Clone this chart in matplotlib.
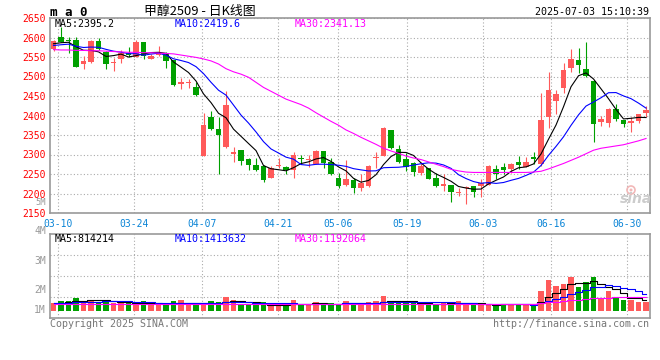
import matplotlib
matplotlib.use('Agg')
import matplotlib.pyplot as plt
from matplotlib.patches import Circle
import numpy as np
import pandas as pd

# trading days shown (Sina daily K chart, methanol MA2509)
holidays = ['2025-04-04', '2025-05-01', '2025-05-02', '2025-05-05', '2025-06-02']
dates = pd.bdate_range('2025-03-07', '2025-07-03', freq='C', holidays=holidays).strftime('%m-%d').tolist()

opens = [2570, 2602, 2592, 2594, 2531, 2538, 2591, 2562, 2535, 2544,
         2559, 2551, 2588, 2546, 2556, 2561, 2542, 2481, 2483, 2474,
         2296, 2397, 2365, 2318, 2301, 2311, 2288, 2273, 2271, 2241,
         2270, 2269, 2259, 2292, 2287, 2276, 2309, 2282, 2241, 2222,
         2235, 2213, 2220, 2290, 2296, 2363, 2314, 2288, 2277, 2253,
         2265, 2241, 2218, 2222, 2202, 2215, 2219, 2218, 2223, 2263,
         2269, 2263, 2282, 2269, 2294, 2275, 2397, 2438, 2470, 2523,
         2542, 2519, 2488, 2383, 2382, 2417, 2388, 2381, 2386, 2407]
highs = [2594, 2626, 2602, 2602, 2553, 2594, 2598, 2565, 2547, 2568,
         2576, 2594, 2589, 2557, 2578, 2564, 2543, 2495, 2493, 2487,
         2407, 2412, 2397, 2463, 2320, 2312, 2290, 2290, 2272, 2271,
         2290, 2270, 2307, 2299, 2300, 2312, 2310, 2290, 2252, 2286,
         2239, 2250, 2272, 2306, 2370, 2364, 2324, 2305, 2282, 2282,
         2266, 2252, 2250, 2223, 2215, 2220, 2220, 2236, 2274, 2273,
         2277, 2277, 2296, 2294, 2306, 2457, 2511, 2465, 2534, 2570,
         2572, 2588, 2490, 2399, 2418, 2430, 2389, 2395, 2405, 2425]
lows = [2566, 2588, 2561, 2524, 2518, 2534, 2568, 2520, 2515, 2534,
        2551, 2549, 2544, 2544, 2552, 2523, 2476, 2467, 2470, 2450,
        2295, 2362, 2250, 2316, 2282, 2273, 2260, 2257, 2230, 2240,
        2266, 2250, 2241, 2276, 2269, 2275, 2265, 2248, 2213, 2220,
        2202, 2207, 2217, 2265, 2295, 2315, 2279, 2258, 2246, 2247,
        2236, 2217, 2206, 2179, 2193, 2172, 2192, 2190, 2222, 2237,
        2250, 2252, 2263, 2268, 2276, 2270, 2367, 2405, 2458, 2512,
        2508, 2498, 2333, 2374, 2371, 2385, 2371, 2358, 2380, 2397]
closes = [2592, 2589, 2590, 2525, 2540, 2591, 2570, 2531, 2536, 2559,
          2554, 2588, 2553, 2553, 2562, 2541, 2477, 2487, 2484, 2453,
          2376, 2365, 2350, 2427, 2307, 2284, 2273, 2259, 2235, 2266,
          2272, 2259, 2299, 2288, 2288, 2309, 2277, 2249, 2218, 2237,
          2213, 2228, 2271, 2292, 2367, 2316, 2282, 2269, 2254, 2271,
          2237, 2220, 2224, 2205, 2204, 2217, 2205, 2226, 2271, 2250,
          2260, 2276, 2273, 2282, 2288, 2388, 2465, 2455, 2517, 2544,
          2529, 2501, 2377, 2391, 2417, 2392, 2379, 2385, 2403, 2415]
# closes before 03-07, only needed to start MA5 / MA10
prior_closes = [2570, 2575, 2578, 2572, 2580, 2576, 2584, 2582, 2586]
# MA30 line
ma30 = [2569, 2568, 2568, 2567, 2567, 2566, 2566, 2565, 2564, 2563,
        2562, 2562, 2561, 2561, 2560, 2559, 2558, 2555, 2552, 2549,
        2545, 2540, 2532, 2520, 2512, 2506, 2498, 2485, 2472, 2462,
        2452, 2442, 2435, 2428, 2419, 2407, 2396, 2385, 2375, 2363,
        2354, 2344, 2335, 2326, 2316, 2309, 2303, 2296, 2291, 2287,
        2281, 2275, 2269, 2262, 2258, 2255, 2254, 2254, 2254, 2254,
        2254, 2254, 2254, 2254, 2255, 2257, 2263, 2270, 2277, 2285,
        2293, 2302, 2311, 2316, 2319, 2322, 2325, 2330, 2335, 2341]

# volume in millions
volumes = [0.59, 0.77, 0.77, 1.04, 0.77, 0.88, 0.67, 0.85, 0.59, 0.59,
           0.59, 0.59, 0.77, 0.50, 0.50, 0.50, 0.77, 0.85, 0.59, 0.50,
           0.50, 0.77, 0.67, 1.10, 0.85, 0.45, 0.45, 0.45, 0.67, 0.45,
           0.45, 0.45, 0.85, 0.50, 0.50, 0.67, 0.59, 0.59, 0.50, 0.77,
           0.59, 0.45, 0.67, 0.77, 1.17, 0.77, 0.59, 0.59, 0.59, 0.59,
           0.59, 0.50, 0.59, 0.67, 0.77, 0.45, 0.50, 0.50, 0.50, 0.50,
           0.50, 0.50, 0.50, 0.50, 0.50, 1.57, 2.45, 2.00, 2.13, 2.72,
           1.92, 2.32, 2.72, 0.93, 1.57, 1.07, 0.85, 0.85, 0.69, 0.69]
prior_volumes = [0.60, 0.62, 0.58, 0.60, 0.56, 0.60, 0.62, 0.58, 0.60]
# volume MA30 line
vol_ma30 = [0.55] * 65 + [0.58, 0.66, 0.71, 0.76, 0.83, 0.88, 0.94, 1.00, 1.01, 1.05,
                          1.06, 1.07, 1.08, 1.08, 1.09]

tick_dates = ['03-10', '03-24', '04-07', '04-21', '05-06', '05-19', '06-03', '06-16', '06-30']

RED = '#ff5a5a'
GREEN = '#00a000'
GRID = '#aaaaaa'
EDGE = '#999999'
MONO = 'DejaVu Sans Mono'

o = np.array(opens, float)
h = np.array(highs, float)
l = np.array(lows, float)
c = np.array(closes, float)
v = np.array(volumes) * 1e6
n = len(c)
x = np.arange(n)

ma5 = pd.Series(prior_closes + closes).rolling(5).mean().values[9:]
ma10 = pd.Series(prior_closes + closes).rolling(10).mean().values[9:]
allv = np.concatenate([np.array(prior_volumes) * 1e6, v])
vma5 = pd.Series(allv).rolling(5).mean().values[9:]
vma10 = pd.Series(allv).rolling(10).mean().values[9:]
vma30 = np.array(vol_ma30) * 1e6

# Sina labels drift a little against the candles
tick_idx = np.array([dates.index(d) for d in tick_dates])
tick_pos = tick_idx * 1.0115 - 0.45

W, H = 660, 360
fig = plt.figure(figsize=(6.6, 3.6), dpi=100)
fig.patch.set_facecolor('white')

def fx(px):
    return px / W

def fy(py):
    return 1 - py / H

ax = fig.add_axes([fx(50), fy(213), fx(600), 195 / H])
axv = fig.add_axes([fx(50), fy(318), fx(600), 83.7 / H])

up = c >= o
col = np.where(up, RED, GREEN)

ax.vlines(x, l, h, colors=col, lw=0.8, zorder=2)
body = np.maximum(np.abs(c - o), 2.6)
ax.bar(x, body, 0.7, bottom=np.minimum(o, c), color=col, lw=0, zorder=3)

ax.plot(x, ma5, color='black', lw=0.8, zorder=4)
ax.plot(x, ma10, color='#0000ff', lw=0.8, zorder=4)
ax.plot(x, ma30, color='#ff00ff', lw=0.8, zorder=4)

ax.set_xlim(-0.47, 79.53)
ax.set_ylim(2150, 2650)
ax.set_yticks(range(2150, 2651, 50))
ax.set_yticklabels([str(t) for t in range(2150, 2651, 50)], family=MONO, fontsize=7, color='#ff0000')
ax.set_xticks(tick_pos)
ax.set_xticklabels(tick_dates, family=MONO, fontsize=7, color='#0a84d6')
ax.tick_params(length=0, pad=3)
ax.tick_params(axis='x', pad=4)
ax.grid(True, ls=(0, (1, 2)), color=GRID, lw=0.8)
ax.set_axisbelow(True)
for s in ax.spines.values():
    s.set_color(EDGE)
    s.set_linewidth(1.2)

# volume panel
s_px = 80000.0
axv.bar(x, v, 0.78, color=col, lw=0, zorder=3)
axv.plot(x, vma5, color='black', lw=0.8, drawstyle='steps-mid', zorder=4)
axv.plot(x, vma10, color='#0000ff', lw=0.8, drawstyle='steps-mid', zorder=4)
axv.plot(x, vma30, color='#ff00ff', lw=0.8, drawstyle='steps-mid', zorder=4)
axv.set_xlim(-0.47, 79.53)
lo, hi = -7.3 * s_px, 76.4 * s_px
axv.set_ylim(lo, hi)
axv.set_yticks([lo + f * (hi - lo) for f in (0.25, 0.5, 0.75)])
axv.set_yticklabels([])
axv.set_xticks(tick_pos)
axv.set_xticklabels([])
axv.tick_params(length=0)
axv.grid(True, ls=(0, (1, 2)), color=GRID, lw=0.8)
axv.set_axisbelow(True)
for s in axv.spines.values():
    s.set_color(EDGE)
    s.set_linewidth(1.2)

fig.text(fx(46), fy(202.5), '5M', ha='right', va='center', family=MONO, fontsize=6.3, color='#999999')
for lab, py in [('4M', 231), ('3M', 261), ('2M', 290), ('1M', 310)]:
    fig.text(fx(46), fy(py), lab, ha='right', va='center', family=MONO, fontsize=7, color='#999999')

# header
fig.text(fx(50), fy(12), 'm a 0', ha='left', va='center', family=MONO, fontsize=9,
         fontweight='bold', color='black')
fig.text(fx(200), fy(11), '甲醇2509 - 日K线图', ha='center', va='center',
         family=['Noto Sans CJK SC', 'DejaVu Sans'], fontsize=9.3, color='black')
fig.text(fx(649), fy(12), '2025-07-03 15:10:39', ha='right', va='center', family=MONO,
         fontsize=7.2, color='black')

fig.text(fx(54.5), fy(24), 'MA5:2395.2', ha='left', va='center', family=MONO, fontsize=7.2, color='black')
fig.text(fx(174.5), fy(24), 'MA10:2419.6', ha='left', va='center', family=MONO, fontsize=7.2, color='#0000ff')
fig.text(fx(295), fy(24), 'MA30:2341.13', ha='left', va='center', family=MONO, fontsize=7.2, color='#ff00ff')

fig.text(fx(54.5), fy(239), 'MA5:814214', ha='left', va='center', family=MONO, fontsize=7.2, color='black')
fig.text(fx(174.5), fy(239), 'MA10:1413632', ha='left', va='center', family=MONO, fontsize=7.2, color='#0000ff')
fig.text(fx(295), fy(239), 'MA30:1192064', ha='left', va='center', family=MONO, fontsize=7.2, color='#ff00ff')

fig.text(fx(50), fy(324), 'Copyright 2025 SINA.COM', ha='left', va='center', family=MONO,
         fontsize=7.2, color='#777777')
fig.text(fx(649), fy(324), 'http://finance.sina.com.cn', ha='right', va='center', family=MONO,
         fontsize=7.2, color='#777777')

# watermark: small eye logo + sina
fig.patches.append(Circle((6.31, 1.70), 0.04, transform=fig.dpi_scale_trans, fill=False,
                          ec='#f2b8b8', lw=1.2))
fig.patches.append(Circle((6.31, 1.70), 0.015, transform=fig.dpi_scale_trans,
                          color='#f2b8b8', lw=0))
fig.text(fx(636), fy(199), 'sina', ha='center', va='center', fontsize=10, fontweight='bold',
         style='italic', color='#cccccc')

fig.savefig('out.png', dpi=100)
